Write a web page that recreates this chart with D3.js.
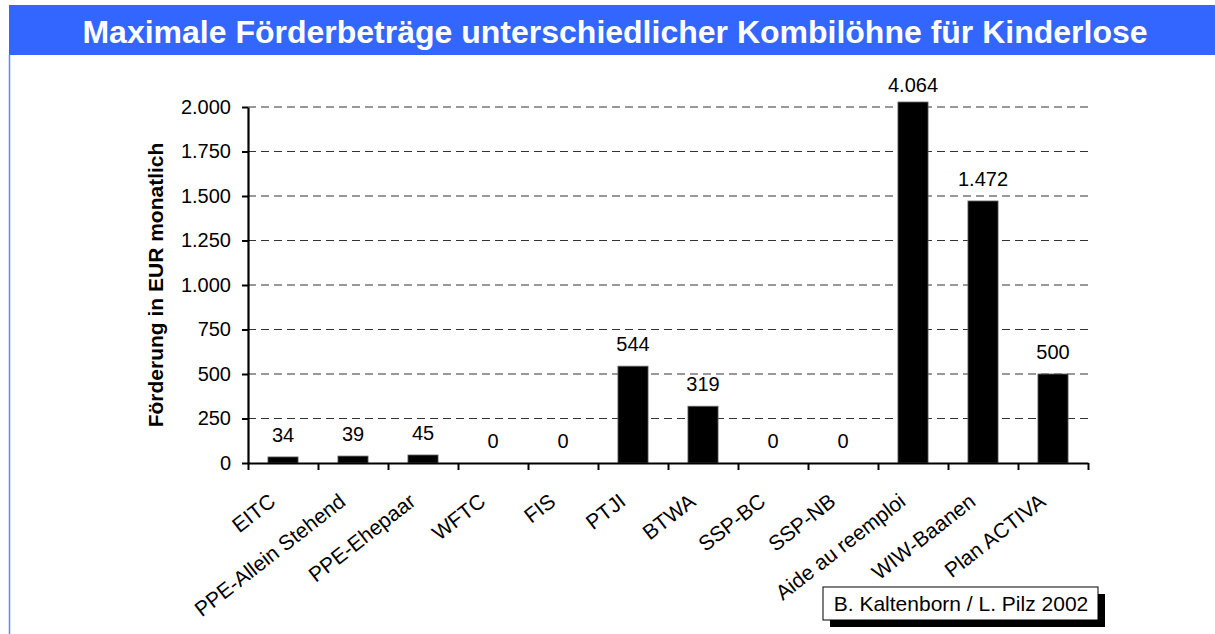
<!DOCTYPE html>
<html>
<head>
<meta charset="utf-8">
<script src="https://cdn.jsdelivr.net/npm/d3@7"></script>
<style>
  body { margin: 0; background: #fff; }
  svg { display: block; font-family: "Liberation Sans", Arial, sans-serif; }
</style>
</head>
<body>
<div id="chart"></div>
<script>
// chart values
var categories = ["EITC", "PPE-Allein Stehend", "PPE-Ehepaar", "WFTC", "FIS", "PTJI",
                  "BTWA", "SSP-BC", "SSP-NB", "Aide au reemploi", "WIW-Baanen", "Plan ACTIVA"];
var values = [34, 39, 45, 0, 0, 544, 319, 0, 0, 4064, 1472, 500];
var yTicks = [0, 250, 500, 750, 1000, 1250, 1500, 1750, 2000];
var titleText = "Maximale Förderbeträge unterschiedlicher Kombilöhne für Kinderlose";
var yTitle = "Förderung in EUR monatlich";
var source = "B. Kaltenborn / L. Pilz 2002";

var W = 1215, H = 634;
var margin = {top: 107, right: 127, bottom: 171, left: 248};
var width = W - margin.left - margin.right,
    height = H - margin.top - margin.bottom;

var de = d3.formatLocale({decimal: ",", thousands: ".", grouping: [3], currency: ["", " €"]});
var fmt = de.format(",.0f");

var svg = d3.select("#chart").append("svg")
    .attr("width", W)
    .attr("height", H);

// header band + left frame line
svg.append("rect")
    .attr("x", 9).attr("y", 5)
    .attr("width", W - 9).attr("height", 50)
    .attr("fill", "#3366ff");
svg.append("line")
    .attr("x1", 9.5).attr("x2", 9.5)
    .attr("y1", 55).attr("y2", H)
    .attr("stroke", "#5f85ff")
    .attr("stroke-width", 1.5);
svg.append("text")
    .attr("x", 615).attr("y", 43)
    .attr("text-anchor", "middle")
    .attr("fill", "#fff")
    .style("font-size", "32px")
    .style("font-weight", "bold")
    .text(titleText);

var g = svg.append("g")
    .attr("transform", `translate(${margin.left}, ${margin.top})`);

var x = d3.scaleBand()
    .domain(categories)
    .range([0, width])
    .paddingInner(0.57)
    .paddingOuter(0.285);

// boundaries between categories get the ticks
var xEdges = d3.scaleLinear()
    .domain([0, categories.length])
    .range([0, width]);

var yMax = d3.max(yTicks);
var y = d3.scaleLinear()
    .domain([0, yMax])
    .range([height, 0]);

// gridlines
g.append("g")
    .selectAll("line")
    .data(yTicks.filter(d => d > 0))
    .join("line")
    .attr("x1", 0).attr("x2", width)
    .attr("y1", d => y(d)).attr("y2", d => y(d))
    .attr("stroke", "#333")
    .attr("stroke-width", 1)
    .attr("stroke-dasharray", "8,5");

// bars (tall ones are cut slightly above the top gridline, like the original)
g.append("g")
    .selectAll("rect")
    .data(values)
    .join("rect")
    .attr("x", (d, i) => x(categories[i]))
    .attr("width", x.bandwidth())
    .attr("y", d => y(Math.min(d, yMax * 1.014)))
    .attr("height", d => height - y(Math.min(d, yMax * 1.014)))
    .attr("fill", "#000")
    .attr("stroke", "#666")
    .attr("stroke-width", 0.8);

// value labels
g.append("g")
    .selectAll("text")
    .data(values)
    .join("text")
    .attr("x", (d, i) => x(categories[i]) + x.bandwidth() / 2)
    .attr("y", d => y(Math.min(d, yMax)) - 15)
    .attr("text-anchor", "middle")
    .style("font-size", "20px")
    .text(d => fmt(d));

// y axis
var yAxis = g.append("g")
    .call(d3.axisLeft(y).tickValues(yTicks).tickFormat(fmt).tickSize(6).tickSizeOuter(0).tickPadding(11));
yAxis.select(".domain").attr("stroke-width", 2.2);
yAxis.selectAll(".tick line").attr("stroke-width", 2);
yAxis.selectAll(".tick text")
    .style("font-size", "20px")
    .style("font-family", "Liberation Sans, Arial, sans-serif")
    .attr("fill", "#000");

// x axis
var xAxis = g.append("g")
    .attr("transform", `translate(0, ${height})`)
    .call(d3.axisBottom(xEdges).ticks(categories.length).tickFormat("").tickSize(7).tickSizeOuter(0));
xAxis.select(".domain").attr("stroke-width", 2.2);
xAxis.selectAll(".tick line").attr("stroke-width", 2);

// category labels, rotated
g.append("g")
    .selectAll("text")
    .data(categories)
    .join("text")
    .attr("text-anchor", "end")
    .attr("transform", d => `translate(${x(d) + x.bandwidth() / 2 - 6}, ${height + 41}) rotate(-38)`)
    .style("font-size", "21px")
    .text(d => d);

// y axis title
svg.append("text")
    .attr("transform", `translate(163, ${margin.top + height / 2}) rotate(-90)`)
    .attr("text-anchor", "middle")
    .style("font-size", "21px")
    .style("font-weight", "bold")
    .text(yTitle);

// source box with shadow
var src = svg.append("g").attr("transform", "translate(823, 587)");
src.append("rect")
    .attr("x", 7).attr("y", 7)
    .attr("width", 275).attr("height", 33)
    .attr("fill", "#000");
src.append("rect")
    .attr("x", 0).attr("y", 0)
    .attr("width", 275).attr("height", 33)
    .attr("fill", "#fff")
    .attr("stroke", "#000")
    .attr("stroke-width", 1);
src.append("text")
    .attr("x", 138).attr("y", 24)
    .attr("text-anchor", "middle")
    .style("font-size", "21px")
    .text(source);
</script>
</body>
</html>
